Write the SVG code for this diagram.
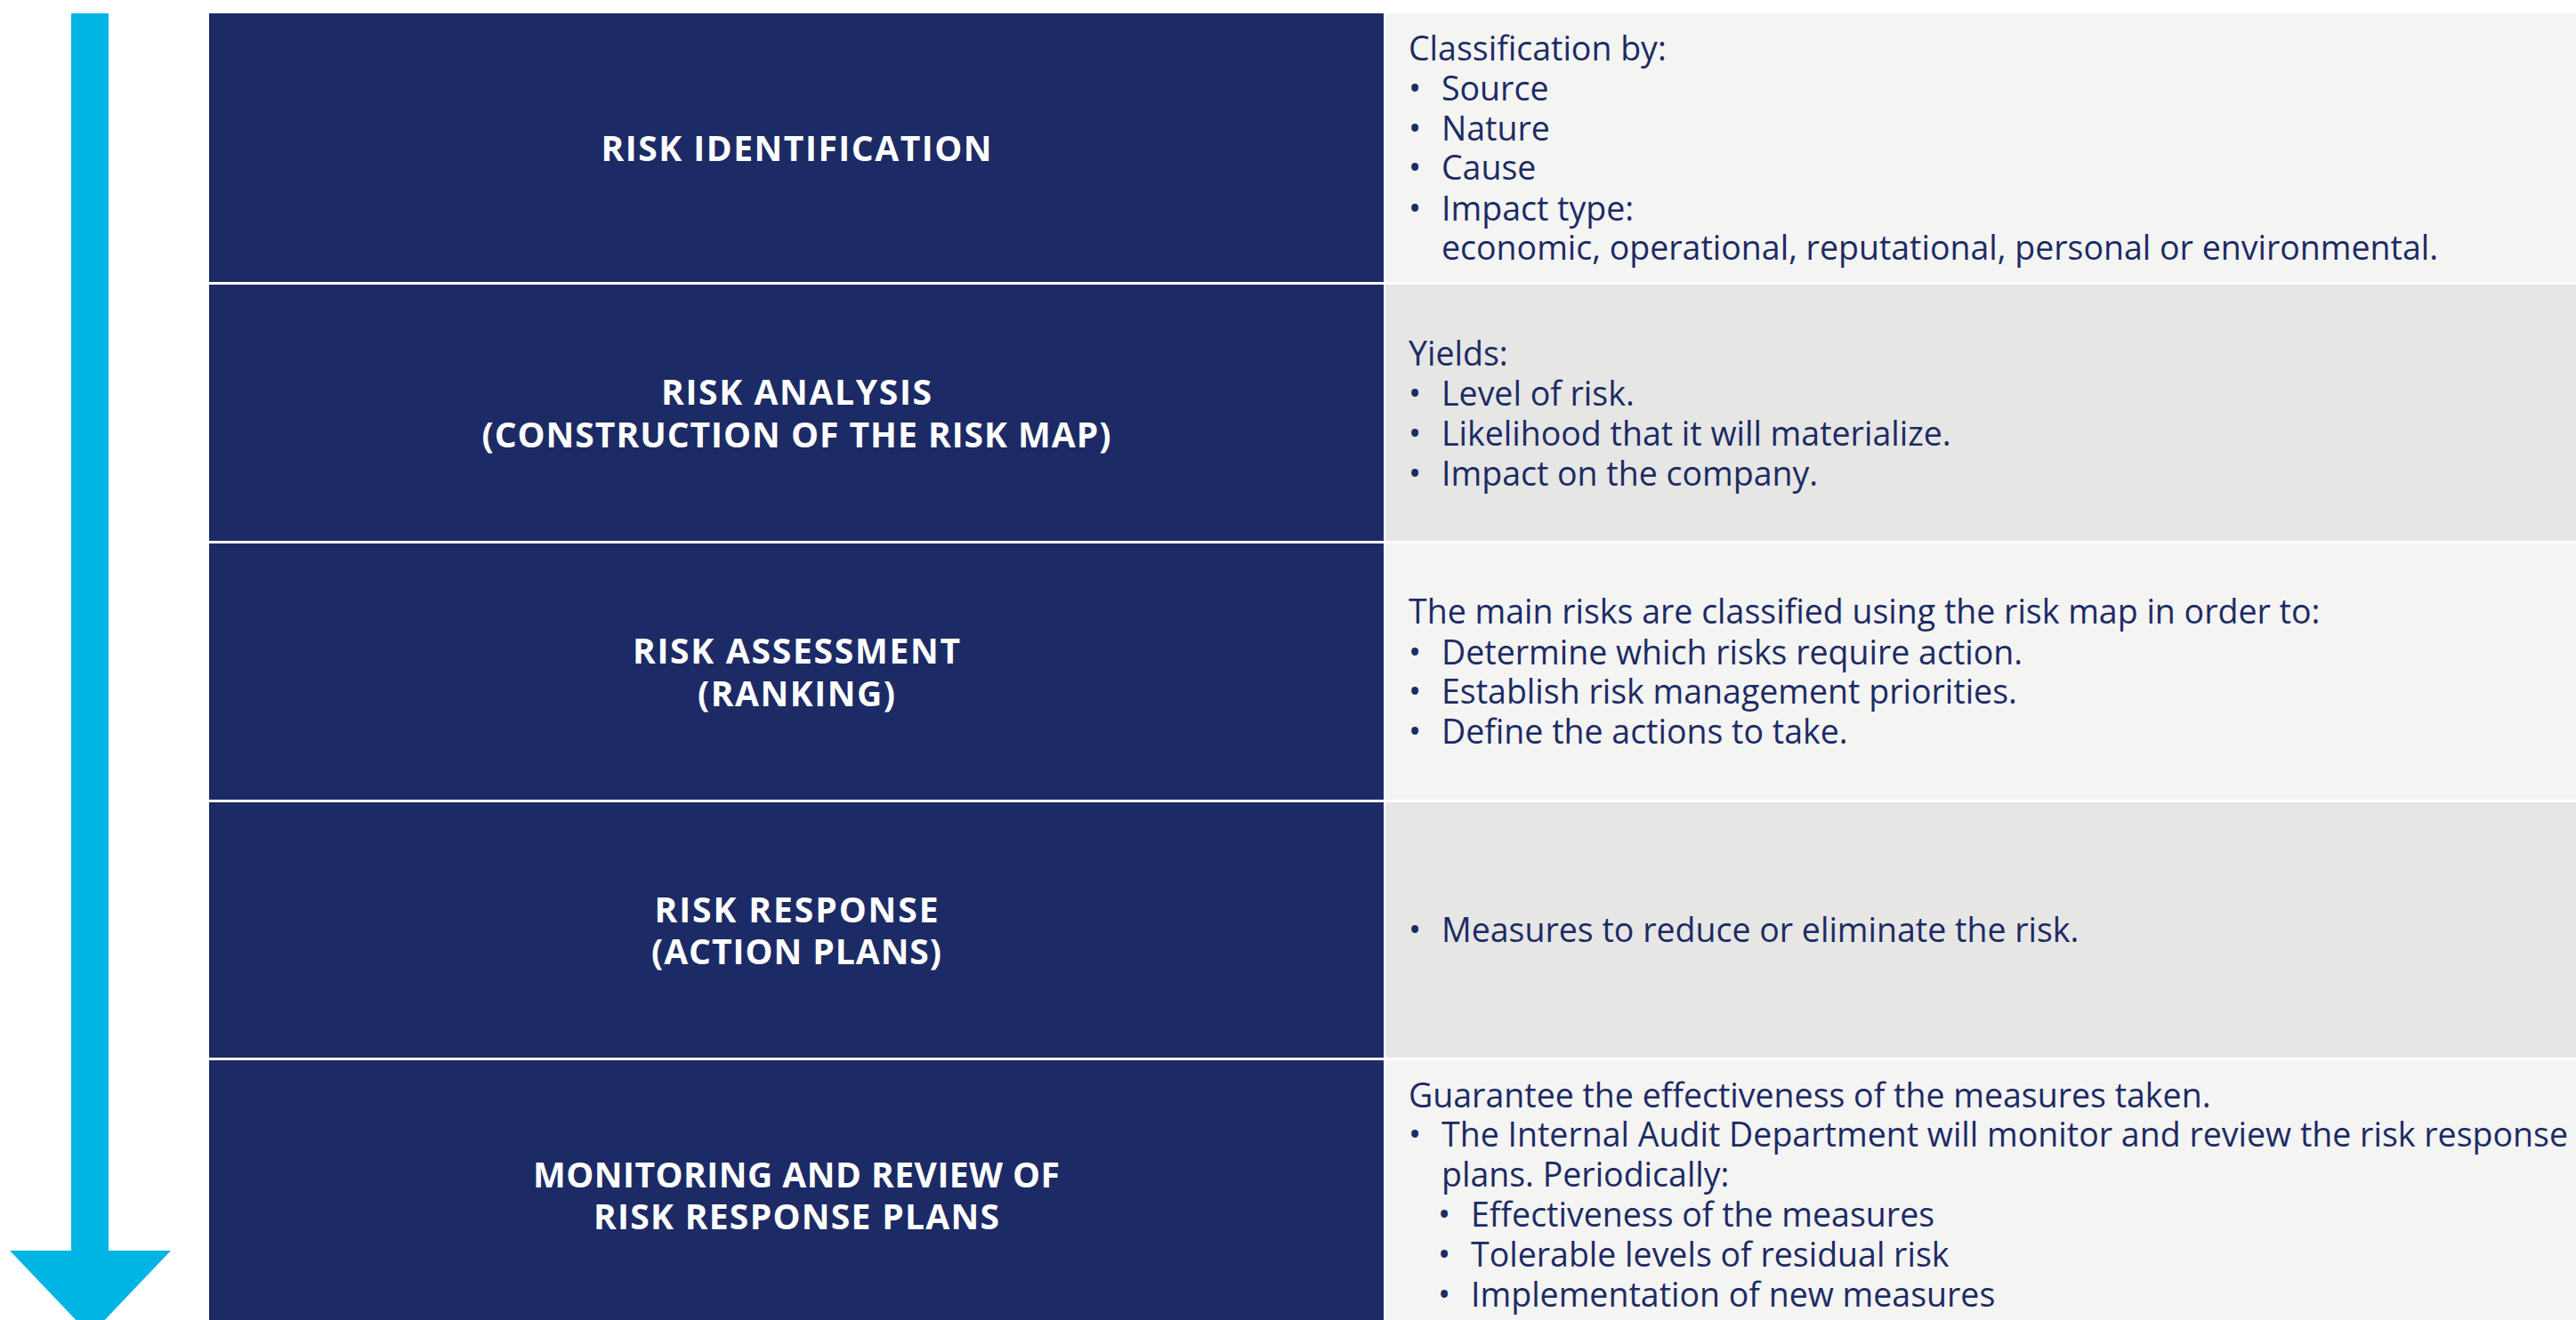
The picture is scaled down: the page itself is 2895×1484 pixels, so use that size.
<svg xmlns="http://www.w3.org/2000/svg" width="2895" height="1484" viewBox="0 0 2895 1484">
<style>
.box{fill:#1c2b65}
.light{fill:#f4f4f2}
.mid{fill:#e6e6e4}
.h{font-family:"Open Sans","Liberation Sans",sans-serif;font-weight:700;font-size:39px;fill:#ffffff;text-anchor:middle}
.t{font-family:"Open Sans","Liberation Sans",sans-serif;font-weight:400;font-size:37.5px;fill:#1c2b65}
.arrow{fill:#00b5e3}
</style>
<rect x="0" y="0" width="2895" height="1484" fill="#ffffff"/>
<g id="connectors">
<rect class="arrow" x="80" y="15" width="42" height="1393"/>
<polygon class="arrow" points="11,1406 192,1406 101.5,1501"/>
</g>
<g id="node-identification">
<rect class="box" x="235" y="15" width="1320" height="302"/>
<text class="h" x="895" y="181" textLength="439">RISK IDENTIFICATION</text>
</g>
<g id="desc-identification">
<rect class="light" x="1557" y="15" width="1338" height="302"/>
<text class="t" x="1583" y="68">Classification by:</text>
<text class="t" y="113"><tspan x="1583">•</tspan><tspan x="1620">Source</tspan></text>
<text class="t" y="158"><tspan x="1583">•</tspan><tspan x="1620">Nature</tspan></text>
<text class="t" y="202"><tspan x="1583">•</tspan><tspan x="1620">Cause</tspan></text>
<text class="t" y="248"><tspan x="1583">•</tspan><tspan x="1620">Impact type:</tspan></text>
<text class="t" x="1620" y="292">economic, operational, reputational, personal or environmental.</text>
</g>
<g id="node-analysis">
<rect class="box" x="235" y="320" width="1320" height="288"/>
<text class="h" x="895" y="455" textLength="304">RISK ANALYSIS</text>
<text class="h" x="895" y="503" textLength="707">(CONSTRUCTION OF THE RISK MAP)</text>
</g>
<g id="desc-analysis">
<rect class="mid" x="1557" y="320" width="1338" height="288"/>
<text class="t" x="1583" y="411">Yields:</text>
<text class="t" y="456"><tspan x="1583">•</tspan><tspan x="1620">Level of risk.</tspan></text>
<text class="t" y="501"><tspan x="1583">•</tspan><tspan x="1620">Likelihood that it will materialize.</tspan></text>
<text class="t" y="546"><tspan x="1583">•</tspan><tspan x="1620">Impact on the company.</tspan></text>
</g>
<g id="node-assessment">
<rect class="box" x="235" y="611" width="1320" height="288"/>
<text class="h" x="895" y="746" textLength="368">RISK ASSESSMENT</text>
<text class="h" x="895" y="794" textLength="222">(RANKING)</text>
</g>
<g id="desc-assessment">
<rect class="light" x="1557" y="611" width="1338" height="288"/>
<text class="t" x="1583" y="701">The main risks are classified using the risk map in order to:</text>
<text class="t" y="747"><tspan x="1583">•</tspan><tspan x="1620">Determine which risks require action.</tspan></text>
<text class="t" y="791"><tspan x="1583">•</tspan><tspan x="1620">Establish risk management priorities.</tspan></text>
<text class="t" y="836"><tspan x="1583">•</tspan><tspan x="1620">Define the actions to take.</tspan></text>
</g>
<g id="node-response">
<rect class="box" x="235" y="902" width="1320" height="287"/>
<text class="h" x="895" y="1037" textLength="319">RISK RESPONSE</text>
<text class="h" x="895" y="1084" textLength="326">(ACTION PLANS)</text>
</g>
<g id="desc-response">
<rect class="mid" x="1557" y="902" width="1338" height="287"/>
<text class="t" y="1059"><tspan x="1583">•</tspan><tspan x="1620">Measures to reduce or eliminate the risk.</tspan></text>
</g>
<g id="node-monitoring">
<rect class="box" x="235" y="1192" width="1320" height="292"/>
<text class="h" x="895" y="1335" textLength="592">MONITORING AND REVIEW OF</text>
<text class="h" x="895" y="1382" textLength="456">RISK RESPONSE PLANS</text>
</g>
<g id="desc-monitoring">
<rect class="light" x="1557" y="1192" width="1338" height="292"/>
<text class="t" x="1583" y="1245">Guarantee the effectiveness of the measures taken.</text>
<text class="t" y="1289"><tspan x="1583">•</tspan><tspan x="1620" textLength="1266">The Internal Audit Department will monitor and review the risk response</tspan></text>
<text class="t" x="1620" y="1334">plans. Periodically:</text>
<text class="t" y="1379"><tspan x="1616">•</tspan><tspan x="1653">Effectiveness of the measures</tspan></text>
<text class="t" y="1424"><tspan x="1616">•</tspan><tspan x="1653">Tolerable levels of residual risk</tspan></text>
<text class="t" y="1469"><tspan x="1616">•</tspan><tspan x="1653">Implementation of new measures</tspan></text>
</g>
</svg>
